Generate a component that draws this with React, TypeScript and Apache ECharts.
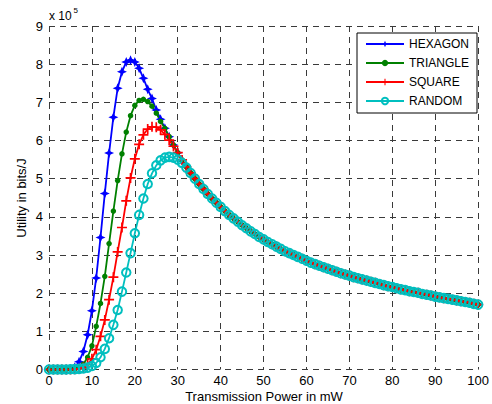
import React, { useEffect, useRef } from "react";
import * as echarts from "echarts";

// Transmission power samples (mW)
const powerMw: number[] = Array.from({ length: 101 }, (_, i) => i);

// Utility values in units of 10^5 bits/J
// Rising part of each curve (starting at x = 0)
const hexagonRise = [
  0, 0, 0, 0, 0.003, 0.015, 0.06, 0.2, 0.47, 0.91,
  1.54, 2.4, 3.46, 4.61, 5.67, 6.61, 7.37, 7.8, 8.06, 8.1,
  8.06, 7.89, 7.63, 7.34,
];
const triangleRise = [
  0, 0, 0, 0, 0, 0.005, 0.015, 0.05, 0.14, 0.32,
  0.62, 1.13, 1.73, 2.44, 3.3, 4.15, 4.95, 5.65, 6.22, 6.65,
  6.92, 7.05, 7.08, 7.02, 6.9, 6.72, 6.5,
];
const squareRise = [
  0, 0, 0, 0, 0, 0, 0.005, 0.02, 0.05, 0.13,
  0.28, 0.52, 0.87, 1.3, 1.83, 2.42, 3.08, 3.72, 4.42, 5.02,
  5.52, 5.9, 6.15, 6.3, 6.36, 6.35, 6.28, 6.16, 6.01, 5.85,
];
const randomRise = [
  0, 0, 0, 0, 0, 0.005, 0.01, 0.015, 0.025, 0.05,
  0.09, 0.17, 0.32, 0.54, 0.82, 1.17, 1.56, 2.04, 2.54, 3.05,
  3.57, 4.05, 4.48, 4.86, 5.14, 5.35, 5.48, 5.55, 5.57, 5.55,
  5.5, 5.41, 5.29,
];
// Common decaying tail shared by all curves, from x = 24 to x = 100
const TAIL_START = 24;
const commonTail = [
  7.1, 6.8, 6.56, 6.32, 6.1, 5.88,
  5.68, 5.49, 5.31, 5.15, 5.0, 4.86, 4.73, 4.6, 4.48, 4.37,
  4.26, 4.15, 4.05, 3.96, 3.87, 3.78, 3.7, 3.62, 3.55, 3.47,
  3.41, 3.34, 3.28, 3.22, 3.16, 3.1, 3.05, 3.0, 2.95, 2.9,
  2.85, 2.8, 2.76, 2.72, 2.68, 2.64, 2.6, 2.56, 2.52, 2.49,
  2.46, 2.42, 2.39, 2.36, 2.33, 2.3, 2.27, 2.24, 2.21, 2.18,
  2.16, 2.13, 2.1, 2.08, 2.05, 2.03, 2.01, 1.98, 1.96, 1.94,
  1.91, 1.89, 1.87, 1.85, 1.83, 1.81, 1.79, 1.77, 1.75, 1.72,
  1.7,
];

const seriesNames = ["HEXAGON", "TRIANGLE", "SQUARE", "RANDOM"];
const xTicks = [0, 10, 20, 30, 40, 50, 60, 70, 80, 90, 100];
const yTicks = [0, 1, 2, 3, 4, 5, 6, 7, 8, 9];

function buildSeries(rise: number[]): number[][] {
  return powerMw.map((x, i) => [
    x,
    i < rise.length ? rise[i] : commonTail[i - TAIL_START],
  ]);
}

const FONT = "'Liberation Sans', Arial, Helvetica, sans-serif";
const STAR = "path://M0,-5L1.5,-1.5L5,0L1.5,1.5L0,5L-1.5,1.5L-5,0L-1.5,-1.5Z";
const PLUS =
  "path://M-0.85,-5L0.85,-5L0.85,-0.85L5,-0.85L5,0.85L0.85,0.85L0.85,5L-0.85,5L-0.85,0.85L-5,0.85L-5,-0.85L-0.85,-0.85Z";

export default function App() {
  const ref = useRef<HTMLDivElement>(null);
  useEffect(() => {
    if (!ref.current) return;
    const chart = echarts.init(ref.current, undefined, { renderer: "svg" });
    const gridLine = {
      show: true,
      lineStyle: { color: "#3a3a3a", type: [6, 5] as any, width: 1 },
    };
    const base = {
      type: "line" as const,
      showSymbol: true,
      showAllSymbol: true,
      silent: true,
      emphasis: { disabled: true },
    };
    const option: any = {
      animation: false,
      backgroundColor: "#fff",
      grid: { left: 49, right: 10, top: 26, bottom: 34.5 },
      legend: {
        orient: "vertical",
        left: 357,
        top: 33,
        padding: [5, 8, 6, 8],
        itemWidth: 38,
        itemHeight: 8,
        itemGap: 7,
        borderColor: "#000",
        borderWidth: 1,
        backgroundColor: "#fff",
        textStyle: { fontSize: 12, color: "#000", fontFamily: FONT },
        data: seriesNames,
      },
      xAxis: {
        type: "value",
        min: xTicks[0],
        max: xTicks[xTicks.length - 1],
        interval: 10,
        axisLine: { show: false },
        axisTick: { show: false },
        axisLabel: { fontSize: 13, color: "#000", fontFamily: FONT, margin: 4 },
        splitLine: gridLine,
      },
      yAxis: {
        type: "value",
        min: yTicks[0],
        max: yTicks[yTicks.length - 1],
        interval: 1,
        axisLine: { show: false },
        axisTick: { show: false },
        axisLabel: { fontSize: 13, color: "#000", fontFamily: FONT, margin: 6 },
        splitLine: gridLine,
      },
      graphic: [
        {
          type: "text",
          x: 49,
          y: 15.5,
          style: {
            text: "x 10",
            fontSize: 12,
            fontFamily: FONT,
            fill: "#000",
            textAlign: "left",
            textVerticalAlign: "middle",
          },
        },
        {
          type: "text",
          x: 73.5,
          y: 10,
          style: {
            text: "5",
            fontSize: 8,
            fontFamily: FONT,
            fill: "#000",
            textAlign: "left",
            textVerticalAlign: "middle",
          },
        },
        {
          type: "text",
          x: 264,
          y: 396,
          style: {
            text: "Transmission Power in mW",
            fontSize: 13,
            fontFamily: FONT,
            fill: "#000",
            textAlign: "center",
            textVerticalAlign: "middle",
          },
        },
        {
          type: "text",
          x: 21,
          y: 198,
          rotation: Math.PI / 2,
          style: {
            text: "Utility in bits/J",
            fontSize: 13,
            fontFamily: FONT,
            fill: "#000",
            textAlign: "center",
            textVerticalAlign: "middle",
          },
        },
      ],
      series: [
        {
          ...base,
          name: seriesNames[0],
          data: buildSeries(hexagonRise),
          symbol: STAR,
          symbolSize: 10,
          lineStyle: { color: "#0000FF", width: 1.8 },
          itemStyle: { color: "#0000FF" },
        },
        {
          ...base,
          name: seriesNames[1],
          data: buildSeries(triangleRise),
          symbol: "circle",
          symbolSize: 5.5,
          lineStyle: { color: "#008000", width: 1.8 },
          itemStyle: { color: "#008000" },
        },
        {
          ...base,
          name: seriesNames[2],
          data: buildSeries(squareRise),
          symbol: PLUS,
          symbolSize: 10,
          lineStyle: { color: "#FF0000", width: 1.8 },
          itemStyle: { color: "#FF0000" },
        },
        {
          ...base,
          name: seriesNames[3],
          data: buildSeries(randomRise),
          symbol: "circle",
          symbolSize: 8.5,
          lineStyle: { color: "#00BFBF", width: 1.8 },
          itemStyle: {
            color: "rgba(255,255,255,0)",
            borderColor: "#00BFBF",
            borderWidth: 2,
          },
        },
      ],
    };
    chart.setOption(option);
    return () => chart.dispose();
  }, []);
  return (
    <div
      ref={ref}
      style={{ position: "fixed", left: 0, top: 0, width: 492, height: 404 }}
    />
  );
}
